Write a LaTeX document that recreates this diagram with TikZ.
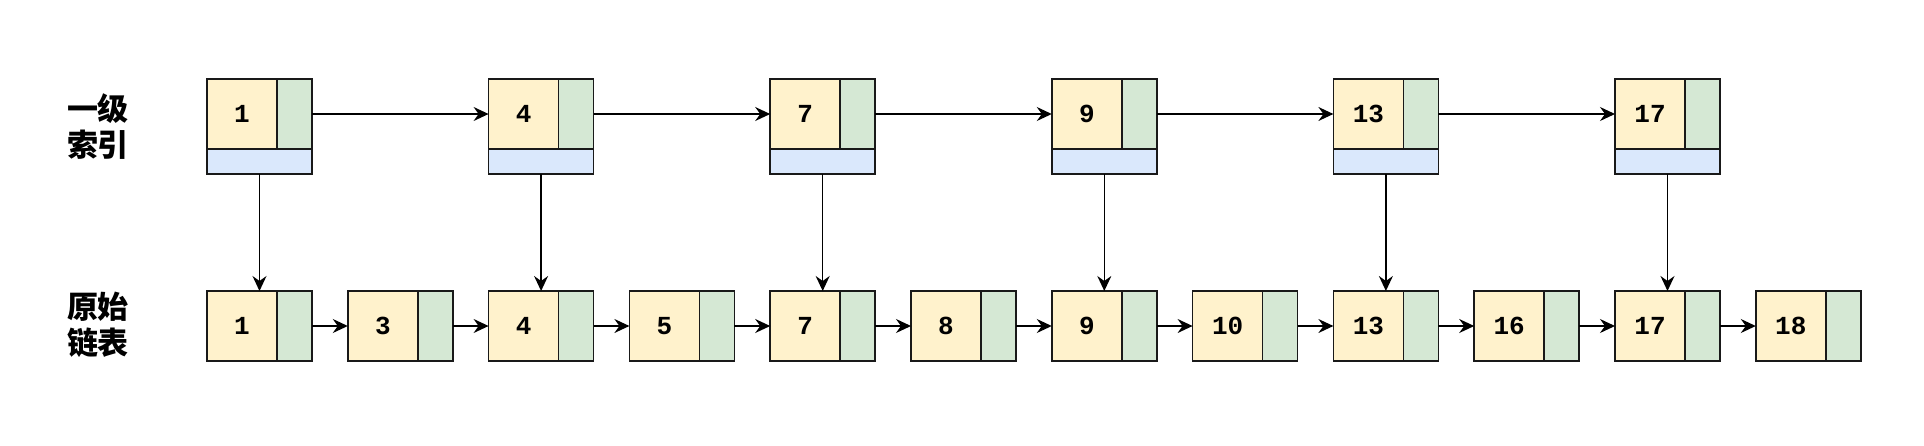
\documentclass[tikz,border=0pt]{standalone}
\usepackage{fontspec}
\setmonofont{Liberation Mono}
\newfontfamily\cjk{Noto Sans CJK SC}
\usetikzlibrary{arrows.meta}
\definecolor{yel}{HTML}{FFF2CC}
\definecolor{grn}{HTML}{D5E8D4}
\definecolor{blu}{HTML}{DAE8FC}
\begin{document}
\begin{tikzpicture}[x=0.5pt,y=-0.5pt,
  cell/.style={draw=black!90, line width=0.8pt, inner sep=0pt, outer sep=0pt, anchor=north west},
  valcell/.style={cell, fill=yel, minimum width=35pt, minimum height=35pt, font=\ttfamily\bfseries\fontsize{13}{13}\selectfont},
  ptrcell/.style={cell, fill=grn, minimum width=17.5pt, minimum height=35pt},
  downcell/.style={cell, fill=blu, minimum width=52.5pt, minimum height=12.5pt},
  rowlabel/.style={font=\cjk\bfseries\fontsize{15.5}{18}\selectfont, align=center},
  arr/.style={-{Stealth[length=7.5pt,width=7pt,inset=2.5pt]}, line width=0.7pt}]
\useasboundingbox (0,0) rectangle (1924,445);
% row labels
\node[rowlabel] (lab1) at (98,126.5) {一级\\索引};
\node[rowlabel] (lab2) at (98,325) {原始\\链表};
% bottom row
\foreach \v [count=\i from 0] in {1,3,4,5,7,8,9,10,13,16,17,18}{
  \pgfmathsetmacro\xx{207+140.8*\i}
  \node[valcell] (bv\v) at (\xx,291) {\v};
  \node[ptrcell] (bp\v) at (\xx+70,291) {};
}
\foreach \a/\b in {1/3,3/4,4/5,5/7,7/8,8/9,9/10,10/13,13/16,16/17,17/18}{
  \draw[arr] (bp\a.east) -- (bv\b.west);
}
% top row
\foreach \v/\i in {1/0,4/2,7/4,9/6,13/8,17/10}{
  \pgfmathsetmacro\xx{207+140.8*\i}
  \node[valcell] (tv\v) at (\xx,79) {\v};
  \node[ptrcell] (tp\v) at (\xx+70,79) {};
  \node[downcell] (td\v) at (\xx,149) {};
  \draw[arr] (td\v.south) -- (td\v.south |- bv\v.north);
}
\foreach \a/\b in {1/4,4/7,7/9,9/13,13/17}{
  \draw[arr] (tp\a.east) -- (tv\b.west);
}
\end{tikzpicture}
\end{document}
